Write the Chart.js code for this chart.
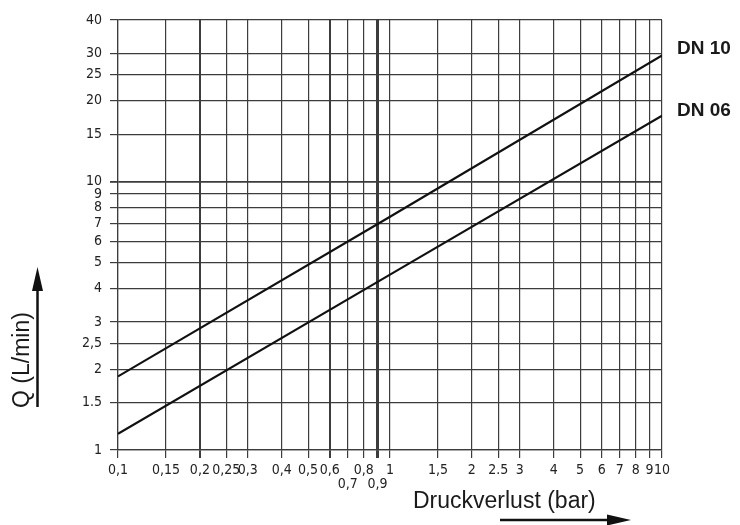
<!DOCTYPE html>
<html>
<head>
<meta charset="utf-8">
<script src="https://cdn.jsdelivr.net/npm/chart.js@4.4.1/dist/chart.umd.min.js"></script>
<style>
  html, body { margin: 0; padding: 0; background: #ffffff; }
  #wrap { width: 740px; height: 525px; position: relative; }
</style>
</head>
<body>
<div id="wrap"><canvas id="c" width="740" height="525"></canvas></div>
<script>
// ---- data ----
const pressureX = [0.1, 1, 10];            // Druckverlust (bar)
const flowDN10 = [1.88, 7.4, 29.5];        // Q (L/min), DN 10
const flowDN06 = [1.15, 4.5, 17.6];        // Q (L/min), DN 06
const seriesNames = ['DN 10', 'DN 06'];

const xTickValues = [0.1, 0.15, 0.2, 0.25, 0.3, 0.4, 0.5, 0.6, 0.7, 0.8, 0.9, 1,
                     1.5, 2, 2.5, 3, 4, 5, 6, 7, 8, 9, 10];
const xTickLabels = ['0,1', '0,15', '0,2', '0,25', '0,3', '0,4', '0,5', '0,6', '0,7', '0,8', '0,9', '1',
                     '1,5', '2', '2.5', '3', '4', '5', '6', '7', '8', '9', '10'];
const xLowerRow = [0.7, 0.9];               // labels printed on a second row
const yTickValues = [1, 1.5, 2, 2.5, 3, 4, 5, 6, 7, 8, 9, 10, 15, 20, 25, 30, 40];
const yTickLabels = ['1', '1.5', '2', '2,5', '3', '4', '5', '6', '7', '8', '9', '10', '15', '20', '25', '30', '40'];

const xTitle = 'Druckverlust (bar)';
const yTitle = 'Q (L/min)';

const toPoints = (xs, ys) => xs.map((x, i) => ({ x: x, y: ys[i] }));

const gridColor = '#3c3c3c';
const tickFont = { family: '"DejaVu Sans Condensed", "DejaVu Sans", sans-serif', size: 14, lineHeight: 0.95 };

const decorPlugin = {
  id: 'decor',
  afterDraw(chart) {
    const ctx = chart.ctx;
    const ys = chart.scales.y;
    ctx.save();
    // series labels at the right end of each line
    ctx.fillStyle = '#1a1a1a';
    ctx.font = 'bold 19px "Liberation Sans", Arial, sans-serif';
    ctx.textAlign = 'left';
    ctx.textBaseline = 'middle';
    ctx.fillText(seriesNames[0], 677, ys.getPixelForValue(flowDN10[flowDN10.length - 1]) - 7);
    ctx.fillText(seriesNames[1], 677, ys.getPixelForValue(flowDN06[flowDN06.length - 1]) - 5);

    // x axis title
    ctx.font = '23px "Liberation Sans", Arial, sans-serif';
    ctx.textBaseline = 'alphabetic';
    ctx.fillText(xTitle, 413, 508);

    // y axis title (rotated)
    ctx.save();
    ctx.translate(29, 360);
    ctx.rotate(-Math.PI / 2);
    ctx.textAlign = 'center';
    ctx.fillText(yTitle, 0, 0);
    ctx.restore();

    // arrows
    ctx.strokeStyle = '#111';
    ctx.fillStyle = '#111';
    ctx.lineWidth = 2.5;
    // vertical arrow
    ctx.beginPath();
    ctx.moveTo(37.5, 407); ctx.lineTo(37.5, 285); ctx.stroke();
    ctx.beginPath();
    ctx.moveTo(37.5, 267); ctx.lineTo(32, 291); ctx.lineTo(43, 291); ctx.closePath(); ctx.fill();
    // horizontal arrow
    ctx.beginPath();
    ctx.moveTo(500, 520); ctx.lineTo(612, 520); ctx.stroke();
    ctx.beginPath();
    ctx.moveTo(631, 520); ctx.lineTo(607, 514.5); ctx.lineTo(607, 525.5); ctx.closePath(); ctx.fill();
    ctx.restore();
  }
};

new Chart(document.getElementById('c'), {
  type: 'line',
  data: {
    datasets: [
      { label: seriesNames[0], data: toPoints(pressureX, flowDN10), borderColor: '#111', borderWidth: 2.2,
        pointRadius: 0, tension: 0, fill: false },
      { label: seriesNames[1], data: toPoints(pressureX, flowDN06), borderColor: '#111', borderWidth: 2.2,
        pointRadius: 0, tension: 0, fill: false }
    ]
  },
  options: {
    responsive: false,
    animation: false,
    events: [],
    layout: { padding: { left: 0, top: 20, right: 78, bottom: 0 } },
    plugins: { legend: { display: false }, tooltip: { enabled: false } },
    scales: {
      x: {
        type: 'logarithmic',
        min: 0.1, max: 10,
        afterBuildTicks(scale) { scale.ticks = xTickValues.map(v => ({ value: v })); },
        afterFit(scale) { scale.height = 75; },
        ticks: {
          autoSkip: false, maxRotation: 0, minRotation: 0,
          color: '#222', font: tickFont, padding: 6,
          callback(value) {
            const i = xTickValues.indexOf(value);
            const lbl = i >= 0 ? xTickLabels[i] : '';
            return xLowerRow.includes(value) ? ['', lbl] : lbl;
          }
        },
        grid: {
          color: gridColor,
          tickLength: 8,
          lineWidth(ctx) {
            const v = ctx.tick ? ctx.tick.value : null;
            if (v === 0.9) return 3;
            if (v === 0.2 || v === 0.6) return 2;
            return 1.2;
          }
        },
        border: { color: gridColor, width: 1.2 }
      },
      y: {
        type: 'logarithmic',
        min: 1, max: 40,
        afterBuildTicks(scale) { scale.ticks = yTickValues.map(v => ({ value: v })); },
        afterFit(scale) { scale.width = 118; },
        ticks: {
          autoSkip: false,
          color: '#222', font: tickFont, padding: 8,
          callback(value) {
            const i = yTickValues.indexOf(value);
            return i >= 0 ? yTickLabels[i] : '';
          }
        },
        grid: {
          color: gridColor,
          tickLength: 8,
          lineWidth(ctx) {
            const v = ctx.tick ? ctx.tick.value : null;
            if (v === 10) return 1.8;
            return 1.2;
          }
        },
        border: { color: gridColor, width: 1.2 }
      }
    }
  },
  plugins: [decorPlugin]
});
</script>
</body>
</html>
